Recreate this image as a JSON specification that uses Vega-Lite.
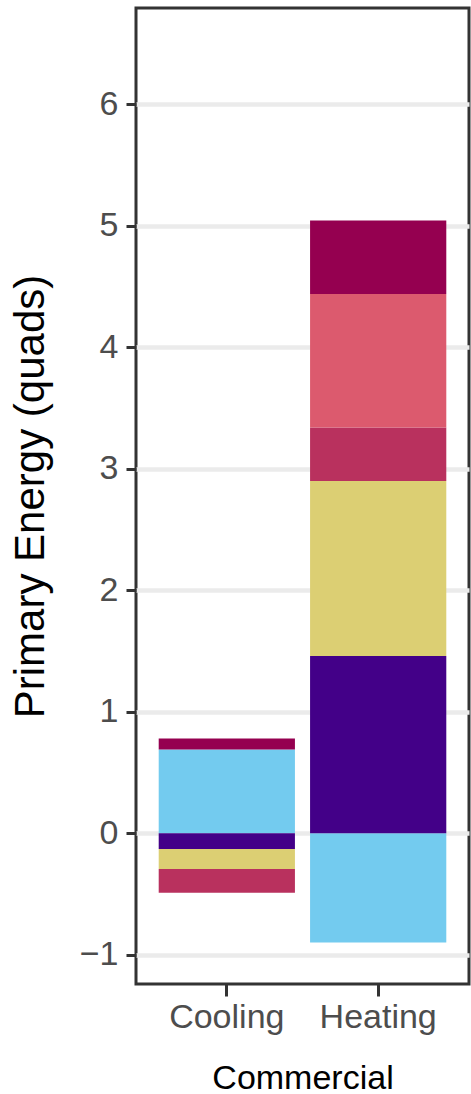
{
  "$schema": "https://vega.github.io/schema/vega-lite/v6.json",
  "autosize": "none",
  "width": 333,
  "height": 976,
  "padding": {"left": 136, "top": 8, "right": 2, "bottom": 110},
  "background": "white",
  "config": {
    "font": "Liberation Sans",
    "view": {"stroke": "#333333", "strokeWidth": 3},
    "axis": {
      "domain": false,
      "labelFont": "Liberation Sans",
      "titleFont": "Liberation Sans",
      "labelColor": "#4d4d4d",
      "titleColor": "#000000",
      "titleFontWeight": "normal",
      "tickColor": "#333333"
    }
  },
  "data": {
    "values": [
      {"use": "Cooling", "component": "Component A", "rank": 0, "quads": 0.69},
      {"use": "Cooling", "component": "Component F", "rank": 5, "quads": 0.09},
      {"use": "Cooling", "component": "Component B", "rank": 1, "quads": -0.13},
      {"use": "Cooling", "component": "Component C", "rank": 2, "quads": -0.165},
      {"use": "Cooling", "component": "Component D", "rank": 3, "quads": -0.195},
      {"use": "Heating", "component": "Component A", "rank": 0, "quads": -0.9},
      {"use": "Heating", "component": "Component B", "rank": 1, "quads": 1.46},
      {"use": "Heating", "component": "Component C", "rank": 2, "quads": 1.44},
      {"use": "Heating", "component": "Component D", "rank": 3, "quads": 0.44},
      {"use": "Heating", "component": "Component E", "rank": 4, "quads": 1.1},
      {"use": "Heating", "component": "Component F", "rank": 5, "quads": 0.605}
    ]
  },
  "mark": {"type": "bar"},
  "encoding": {
    "x": {
      "field": "use",
      "type": "nominal",
      "title": "Commercial",
      "scale": {"paddingInner": 0.1, "paddingOuter": 0.15},
      "axis": {
        "labelAngle": 0,
        "labelFontSize": 34,
        "titleFontSize": 34,
        "tickSize": 12,
        "tickWidth": 3,
        "labelPadding": 4,
        "titlePadding": 27
      }
    },
    "y": {
      "field": "quads",
      "type": "quantitative",
      "stack": "zero",
      "title": "Primary Energy (quads)",
      "scale": {"domain": [-1.241, 6.794], "nice": false, "zero": false},
      "axis": {
        "values": [-1, -0.5, 0, 0.5, 1, 1.5, 2, 2.5, 3, 3.5, 4, 4.5, 5, 5.5, 6, 6.5],
        "format": "d",
        "labelExpr": "datum.value % 1 === 0 ? datum.label : ''",
        "labelFontSize": 34,
        "titleFontSize": 42,
        "tickSize": 10,
        "tickWidth": 3,
        "tickOpacity": {"condition": {"test": "datum.value % 1 !== 0", "value": 0}, "value": 1},
        "labelPadding": 8,
        "titlePadding": 27,
        "grid": true,
        "gridColor": {"condition": {"test": "datum.value % 1 !== 0", "value": "#f0f0f0"}, "value": "#ebebeb"},
        "gridWidth": {"condition": {"test": "datum.value % 1 !== 0", "value": 2}, "value": 4.5}
      }
    },
    "color": {
      "field": "component",
      "type": "nominal",
      "legend": null,
      "scale": {
        "domain": ["Component A", "Component B", "Component C", "Component D", "Component E", "Component F"],
        "range": ["#73cbef", "#430088", "#dccf73", "#b9315e", "#dc5a6e", "#950050"]
      }
    },
    "order": {"field": "rank", "type": "quantitative"}
  }
}
